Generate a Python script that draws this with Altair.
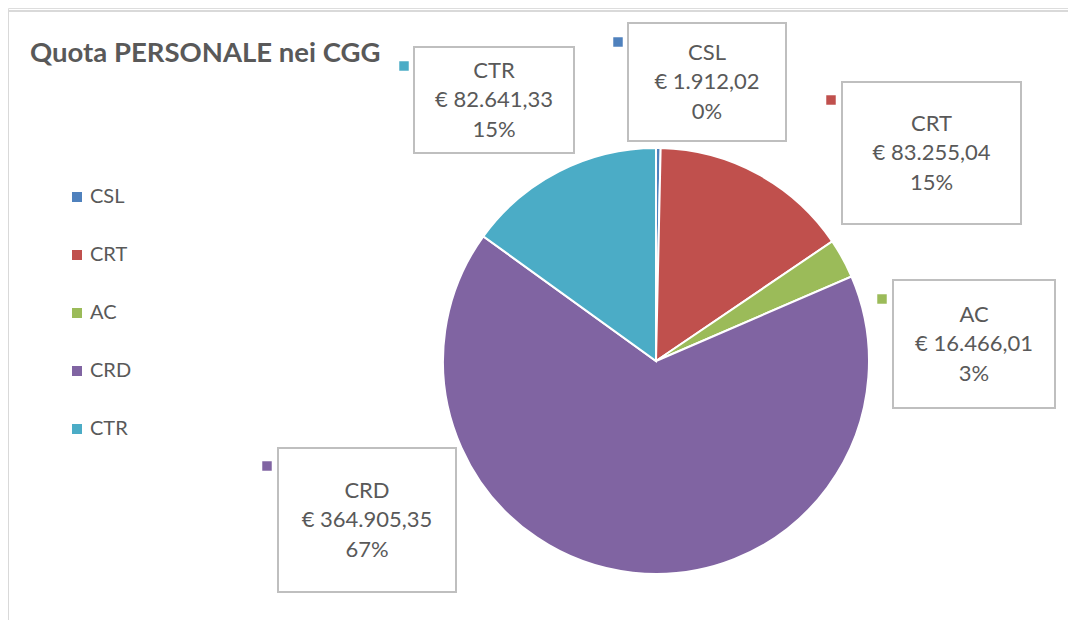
import altair as alt
import pandas as pd

# ---- data ----
categories = ["CSL", "CRT", "AC", "CRD", "CTR"]
values = [1912.02, 83255.04, 16466.01, 364905.35, 82641.33]
value_labels = ["€ 1.912,02", "€ 83.255,04", "€ 16.466,01", "€ 364.905,35", "€ 82.641,33"]
pct_labels = ["0%", "15%", "3%", "67%", "15%"]
colors = ["#4f81bd", "#c0504d", "#9bbb59", "#8064a2", "#4bacc6"]

# ---- label layout (plot pixels) ----
box_x1 = [620, 834, 885, 270, 406]
box_x2 = [778, 1013, 1047, 448, 566]
box_y1 = [15, 74, 272, 440, 39]
box_y2 = [133, 216, 400, 584, 145]
mark_x = [610, 823, 874, 259, 396]
mark_y = [34, 92, 291, 458, 58]

W, H = 1060, 612
FONT = "Lato"
TXT = "#595959"

df = pd.DataFrame({
    "cat": categories,
    "value": values,
    "idx": list(range(len(categories))),
    "label": [f"{c}\n{v}\n{p}" for c, v, p in zip(categories, value_labels, pct_labels)],
    "x1": box_x1, "x2": box_x2, "y1": box_y1, "y2": box_y2,
    "mx": mark_x, "my": mark_y,
})
df["cx"] = (df["x1"] + df["x2"]) / 2
df["cy"] = (df["y1"] + df["y2"]) / 2

xs = alt.Scale(domain=[0, W], nice=False, zero=False)
ys = alt.Scale(domain=[0, H], nice=False, zero=False, reverse=True)
cscale = alt.Scale(domain=categories, range=colors)

base = alt.Chart(df)

pie = base.mark_arc(outerRadius=213, stroke="white", strokeWidth=2).encode(
    theta=alt.Theta("value:Q", stack=True),
    order=alt.Order("idx:Q"),
    color=alt.Color("cat:N", scale=cscale, sort=categories,
                    legend=alt.Legend(title=None, orient="none", legendX=59, legendY=179,
                                      symbolType="square", symbolSize=100, symbolStrokeWidth=0,
                                      labelFont=FONT, labelFontSize=20, labelColor=TXT,
                                      rowPadding=38, labelOffset=3)),
    x=alt.value(648),
    y=alt.value(353),
)

boxes = base.mark_rect(fill="white", stroke="#bfbfbf", strokeWidth=2).encode(
    x=alt.X("x1:Q", scale=xs, axis=None),
    x2="x2:Q",
    y=alt.Y("y1:Q", scale=ys, axis=None),
    y2="y2:Q",
)

texts = base.mark_text(font=FONT, fontSize=22, lineHeight=29.5, dy=-29.5, color=TXT,
                       align="center", baseline="middle", lineBreak="\n").encode(
    x=alt.X("cx:Q", scale=xs, axis=None),
    y=alt.Y("cy:Q", scale=ys, axis=None),
    text="label:N",
)

markers = base.mark_square(size=90, opacity=1, filled=True).encode(
    x=alt.X("mx:Q", scale=xs, axis=None),
    y=alt.Y("my:Q", scale=ys, axis=None),
    color=alt.Color("cat:N", scale=cscale, legend=None),
)

frame_top = alt.Chart(df.head(1)).mark_rule(color="#d9d9d9", strokeWidth=2).encode(
    x=alt.value(0), x2=alt.value(W), y=alt.value(3))
frame_left = alt.Chart(df.head(1)).mark_rule(color="#d9d9d9", strokeWidth=2).encode(
    x=alt.value(0), y=alt.value(3), y2=alt.value(H))

title = alt.Chart(df.head(1)).mark_text(font=FONT, fontSize=27.5, fontWeight="bold", color=TXT,
                                        align="left", baseline="alphabetic").encode(
    x=alt.value(22), y=alt.value(54), text=alt.value("Quota PERSONALE nei CGG"))

chart = alt.layer(frame_top, frame_left, pie, boxes, texts, markers, title).properties(
    width=W, height=H, autosize=alt.AutoSizeParams(type="none"), padding=0
).configure_view(stroke=None).configure(background="white")

chart.save("out.html", embed_options={"renderer": "svg", "actions": False})
